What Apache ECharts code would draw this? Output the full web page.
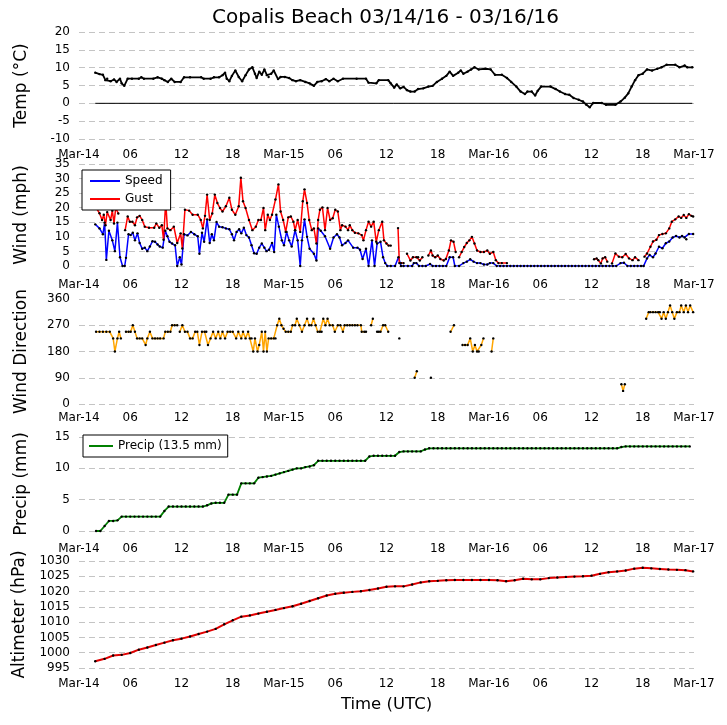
<!DOCTYPE html>
<html>
<head>
<meta charset="utf-8">
<script src="https://cdn.jsdelivr.net/npm/echarts@6/dist/echarts.min.js"></script>
<style>
html,body{margin:0;padding:0;background:#fff;}
#chart{width:727px;height:725px;}
</style>
</head>
<body>
<div id="chart"></div>
<script>
// ---- tick labels (hours since Mar-14 00:00 UTC, every 6 h) ----
const xTickLabels = ['Mar-14','06','12','18','Mar-15','06','12','18','Mar-16','06','12','18','Mar-17'];

// ---- Temperature (°C): [hour, value] ----
const tempReadings = [[1.9,8.6],[2.4,8.2],[2.8,8.0],[3.1,6.5],[3.3,6.9],[3.7,6.2],[4.1,6.7],[4.4,6.0],[4.8,6.9],[5.0,5.6],[5.3,4.9],[5.7,6.9],[6.2,6.9],[7.0,6.9],[7.3,7.3],[7.6,6.9],[8.7,6.9],[9.2,7.3],[9.7,6.9],[10.0,6.5],[10.4,6.0],[10.8,6.9],[11.2,6.0],[11.9,6.0],[12.3,7.3],[13.0,7.3],[14.3,7.3],[14.6,6.9],[15.4,6.9],[15.8,7.3],[16.4,7.3],[16.8,7.9],[17.1,8.6],[17.3,6.9],[17.6,6.2],[17.9,7.7],[18.3,9.2],[18.7,7.4],[19.1,6.2],[19.5,7.9],[19.9,9.5],[20.3,10.1],[20.6,8.3],[20.8,7.1],[21.1,8.9],[21.4,8.0],[21.7,9.5],[22.0,7.9],[22.2,7.4],[22.5,8.3],[22.8,9.2],[23.3,6.8],[23.6,7.4],[24.1,7.4],[24.6,7.1],[25.0,6.5],[25.4,6.2],[25.9,6.5],[26.5,6.0],[27.0,5.6],[27.5,4.9],[27.9,6.0],[28.4,6.2],[28.9,6.8],[29.3,6.2],[29.8,6.9],[30.3,6.2],[30.9,6.9],[32.5,6.9],[33.6,6.9],[33.9,5.8],[34.8,5.6],[35.1,6.5],[36.2,6.5],[36.5,5.6],[36.9,4.4],[37.2,5.3],[37.6,4.2],[38.0,4.6],[38.4,3.7],[38.8,3.3],[39.3,3.3],[39.7,4.0],[40.3,4.2],[40.9,4.7],[41.4,4.9],[41.9,6.0],[42.5,6.9],[43.0,7.7],[43.4,8.9],[43.8,7.7],[44.4,8.6],[44.7,9.2],[45.0,8.3],[45.5,8.9],[45.9,9.5],[46.3,10.1],[46.8,9.5],[47.6,9.7],[48.2,9.5],[48.7,8.0],[49.5,8.0],[50.1,7.1],[50.6,6.0],[51.2,4.7],[51.7,3.3],[52.2,2.6],[52.5,3.3],[53.0,3.3],[53.4,2.2],[53.7,3.5],[54.1,4.7],[55.2,4.7],[55.8,4.0],[56.3,3.3],[56.9,2.6],[57.4,2.4],[57.9,1.5],[58.5,1.0],[59.0,0.5],[59.4,-0.4],[59.8,-1.1],[60.2,0.1],[61.2,0.1],[61.7,-0.4],[62.8,-0.4],[63.4,0.5],[63.9,1.6],[64.3,2.8],[64.7,4.7],[65.1,6.5],[65.5,7.9],[66.0,8.3],[66.5,9.5],[67.1,9.2],[67.7,9.7],[68.2,10.1],[68.8,10.8],[69.8,10.8],[70.3,10.1],[70.9,10.6],[71.2,10.1],[71.8,10.1]];

// ---- Wind speed (mph): [hour, value] ----
const speedReadings = [[1.9,14.3],[2.4,12.9],[2.8,10.9],[3.0,14.9],[3.2,2.1],[3.5,12.1],[3.9,8.8],[4.2,5.1],[4.5,14.9],[4.8,3],[5.1,0],[5.35,0],[5.5,2.8],[5.8,10.9],[6.05,10.6],[6.3,11.4],[6.55,8.8],[6.85,11.2],[7.1,7.9],[7.4,5.9],[7.7,6.3],[8.0,5.1],[8.3,6.7],[8.6,8.5],[8.9,8.3],[9.2,7.4],[9.45,6.7],[9.8,6.3],[10.1,12.1],[10.35,10.2],[10.6,8.3],[10.9,7.7],[11.25,7.1],[11.5,0],[11.8,3],[12.0,0.5],[12.3,10.9],[12.7,10.5],[13.1,11.7],[13.5,10.9],[13.9,10.2],[14.1,4.2],[14.4,11.4],[14.65,8.3],[15.0,16],[15.3,7.9],[15.55,10.9],[15.8,8.8],[16.1,15.1],[16.4,13.5],[16.8,13.3],[17.2,12.9],[17.6,12.6],[17.9,10.9],[18.15,8.8],[18.45,11.7],[18.75,12.6],[19.0,11.2],[19.3,13.1],[19.6,10.6],[19.9,9.8],[20.2,7.1],[20.5,4.4],[20.8,4.2],[21.1,6.3],[21.4,7.7],[21.7,6.3],[21.95,5.1],[22.25,5.6],[22.6,7.9],[22.85,4.8],[23.1,17.6],[23.4,13.5],[23.75,8.8],[24.0,7.1],[24.3,11.7],[24.6,8.8],[24.9,6.7],[25.3,12.3],[25.6,8.8],[25.9,0],[26.1,8.8],[26.4,16],[26.7,10],[27.0,5.9],[27.5,4.2],[27.8,1.9],[28.0,12.9],[28.3,12.1],[28.8,10.2],[29.4,5.9],[29.8,9.8],[30.2,10.9],[30.5,9.8],[30.8,7.1],[31.2,7.9],[31.5,8.8],[32.1,6.3],[32.6,6.3],[32.9,5.6],[33.2,2.4],[33.6,5.9],[33.9,0],[34.3,8.8],[34.6,0],[34.9,7.7],[35.3,8.3],[35.6,3],[35.85,1],[36.1,0],[36.5,0],[37.0,0],[37.4,3],[37.7,0],[38.0,0],[38.5,0],[39.0,0],[39.2,1],[39.5,1],[39.8,0],[40.2,0],[40.6,0],[41.1,0.7],[41.4,0],[41.8,0],[42.2,0],[42.6,0],[43.0,0],[43.4,3],[43.8,3],[44.0,0],[44.5,0],[45.0,1],[45.4,1.5],[45.8,2.3],[46.2,1.5],[46.6,1],[47.0,1],[47.4,0.5],[47.8,0.5],[48.1,1],[48.5,1],[48.9,0],[49.3,0],[49.7,0],[50.1,0],[50.5,0],[50.9,0],[51.3,0],[51.7,0],[52.1,0],[52.5,0],[52.9,0],[53.3,0],[53.7,0],[54.1,0],[54.5,0],[54.9,0],[55.3,0],[55.7,0],[56.1,0],[56.5,0],[56.9,0],[57.3,0],[57.7,0],[58.1,0],[58.5,0],[58.9,0],[59.3,0],[59.7,0],[60.1,0],[60.5,0],[60.9,0],[61.3,0],[61.7,0],[62.1,0],[62.5,0],[62.9,0],[63.4,1],[63.8,1.1],[64.2,0],[64.6,0],[65.0,0],[65.4,0],[65.8,0],[66.1,0],[66.5,2.6],[66.8,3.8],[67.2,3],[67.5,4.3],[67.9,6.6],[68.3,6.1],[68.7,7.8],[69.1,8.4],[69.5,9.8],[69.9,10.3],[70.3,9.8],[70.6,10.3],[70.9,9.8],[71.1,9.2],[71.4,11],[71.9,11]];

// ---- Wind gust (mph): [hour, value], null = gap ----
const gustReadings = [[2.0,20],[2.4,18.1],[2.7,15.8],[2.9,17.6],[3.1,14],[3.3,18.5],[3.7,15.8],[3.9,19],[4.1,14.6],[4.3,20],[4.6,18],[4.9,null],[5.4,12.3],[5.7,17],[5.95,15.2],[6.25,15.2],[6.55,14],[6.8,16.7],[7.1,17.2],[7.4,15.8],[7.7,13.5],[8.2,13.1],[8.8,13.1],[9.05,14.6],[9.4,13.1],[9.7,14],[9.9,9],[10.15,22],[10.35,12.9],[10.7,12.3],[11.1,13.5],[11.5,7.9],[11.9,11.2],[12.1,6],[12.4,19.3],[12.9,19],[13.3,17.6],[13.9,17.6],[14.25,15.8],[14.5,12.9],[14.75,17.2],[15.0,24.5],[15.3,15.8],[15.6,18],[15.9,24.5],[16.2,21.6],[16.5,19.9],[16.8,18.7],[17.2,20.5],[17.6,23.4],[17.9,19.3],[18.3,17.6],[18.7,20.5],[18.95,30.3],[19.2,22.2],[19.5,19.9],[19.9,15.8],[20.3,12.3],[20.7,13.5],[21.0,15.8],[21.3,15.8],[21.6,19.9],[21.8,12.3],[22.1,17.6],[22.35,15.8],[22.6,17.6],[23.0,22.8],[23.35,28],[23.6,18.7],[23.9,15.8],[24.2,11.7],[24.5,16.7],[24.8,17],[25.1,15.2],[25.3,12.3],[25.6,15.8],[25.9,11.7],[26.2,22.2],[26.4,26.3],[26.7,21.6],[26.95,15.8],[27.25,12.3],[27.5,12.9],[27.8,7.7],[28.0,15.8],[28.2,19.3],[28.5,20.1],[28.8,12.3],[29.1,19.9],[29.4,15.8],[29.7,16.4],[30.0,19.3],[30.3,18.7],[30.6,12.3],[30.8,14],[31.2,13.5],[31.5,12.3],[31.7,14],[32.0,12.3],[32.3,11.4],[32.7,11.2],[33.1,10.6],[33.3,8.8],[33.6,12.3],[33.9,15.2],[34.2,13.5],[34.5,15.2],[34.8,8.3],[35.1,12.3],[35.5,15.2],[35.7,8.8],[36.0,7.7],[36.25,7],[36.5,7],[36.9,null],[37.35,13],[37.5,1],[37.7,1],[38.0,1],[38.2,null],[38.4,4.2],[38.8,1.9],[39.1,3],[39.5,3],[39.7,3],[39.9,1.9],[40.2,3],[40.5,null],[40.9,3.6],[41.2,5.3],[41.4,3.6],[41.7,3],[42.0,3.6],[42.3,2.4],[42.7,1.9],[42.95,2.4],[43.3,5.3],[43.55,8.8],[43.85,8.3],[44.1,4.8],[44.3,null],[44.5,3],[44.8,4.8],[45.1,6.5],[45.4,7.9],[45.7,8.8],[46.0,10],[46.3,7.7],[46.6,5.3],[47.0,4.8],[47.4,4.8],[47.8,5.3],[48.1,4.2],[48.5,4.8],[48.8,2],[49.1,1],[49.5,1],[50.1,1],[50.5,null],[60.3,2.3],[60.6,2.6],[60.8,2],[61.1,0.9],[61.3,2.6],[61.6,3],[61.85,1.5],[62.1,null],[62.4,0.9],[62.8,4.3],[63.2,3.2],[63.6,3],[64.0,4.1],[64.4,2.6],[64.8,2],[65.1,3],[65.5,2],[65.8,null],[66.2,3.2],[66.5,4.3],[66.9,6.6],[67.2,8.4],[67.6,9],[67.9,10.6],[68.3,11],[68.7,11.2],[69.1,12.9],[69.4,15.2],[69.8,16],[70.2,17],[70.5,16.5],[70.8,17.5],[71.1,16.5],[71.4,17.8],[71.7,17.2],[71.9,17]];

// ---- Wind direction (deg): [hour, value], null = gap ----
const dirReadings = [[2.0,247.5],[2.4,247.5],[2.8,247.5],[3.2,247.5],[3.6,247.5],[4.0,225],[4.2,180],[4.5,225],[4.7,247.5],[4.9,225],[5.2,null],[5.5,247.5],[5.8,247.5],[6.05,247.5],[6.3,270],[6.55,247.5],[6.8,225],[7.1,225],[7.4,225],[7.8,202.5],[8.0,225],[8.3,247.5],[8.6,225],[8.9,225],[9.2,225],[9.5,225],[9.9,225],[10.1,247.5],[10.4,247.5],[10.7,247.5],[10.9,270],[11.2,270],[11.5,270],[11.65,null],[11.8,247.5],[12.1,270],[12.4,247.5],[12.7,247.5],[13.0,225],[13.3,225],[13.6,247.5],[13.85,247.5],[14.1,202.5],[14.4,247.5],[14.7,247.5],[14.9,247.5],[15.1,202.5],[15.4,225],[15.7,247.5],[16.0,225],[16.3,247.5],[16.55,225],[16.8,247.5],[17.1,225],[17.4,247.5],[17.7,247.5],[18.0,247.5],[18.4,225],[18.65,247.5],[19.0,225],[19.2,247.5],[19.5,225],[19.8,247.5],[20.0,225],[20.2,225],[20.4,180],[20.6,225],[20.9,180],[21.1,202.5],[21.4,247.5],[21.6,180],[21.8,247.5],[22.0,180],[22.2,225],[22.5,225],[22.8,225],[23.0,225],[23.2,270],[23.45,292.5],[23.7,270],[23.95,258],[24.2,247.5],[24.5,247.5],[24.8,247.5],[25.0,270],[25.3,270],[25.5,292.5],[25.8,270],[26.1,247.5],[26.4,270],[26.7,292.5],[26.95,270],[27.2,270],[27.45,292.5],[27.7,270],[27.95,247.5],[28.2,247.5],[28.4,247.5],[28.6,292.5],[28.85,270],[29.1,292.5],[29.35,270],[29.7,270],[29.95,247.5],[30.3,270],[30.6,270],[30.9,247.5],[31.1,270],[31.4,270],[31.7,270],[32.0,270],[32.3,270],[32.6,270],[33.0,270],[33.1,247.5],[33.4,247.5],[33.6,247.5],[33.9,null],[34.2,270],[34.4,292.5],[34.6,null],[34.9,247.5],[35.1,247.5],[35.3,247.5],[35.6,270],[35.85,270],[36.2,247.5],[36.5,null],[37.5,225],[37.8,null],[39.3,90],[39.55,112.5],[39.8,null],[41.2,90],[41.5,null],[43.5,247.5],[43.9,270],[44.2,null],[44.9,202.5],[45.2,202.5],[45.5,202.5],[45.8,225],[46.1,180],[46.35,202.5],[46.6,180],[46.8,180],[47.1,202.5],[47.35,225],[47.6,null],[48.3,180],[48.5,225],[48.8,null],[63.5,67.5],[63.7,45],[63.9,67.5],[64.2,null],[66.4,292.5],[66.7,315],[66.9,315],[67.2,315],[67.5,315],[67.8,315],[68.0,315],[68.2,292.5],[68.45,315],[68.7,292.5],[68.95,315],[69.2,337.5],[69.45,315],[69.7,292.5],[70.0,315],[70.3,315],[70.5,337.5],[70.8,315],[71.05,337.5],[71.3,315],[71.55,337.5],[71.9,315]];

// ---- Accumulated precipitation (mm), read every 0.5 h from 02:00 Mar-14 ----
const precipStartHour = 2.0;
const precipStepHour = 0.5;
const precipValues = [0,0,0.8,1.6,1.6,1.7,2.3,2.3,2.3,2.3,2.3,2.3,2.3,2.3,2.3,2.3,3.2,3.9,3.9,3.9,3.9,3.9,3.9,3.9,3.9,3.9,4.1,4.4,4.5,4.5,4.5,5.8,5.8,5.8,7.6,7.6,7.6,7.6,8.5,8.6,8.7,8.8,9.0,9.2,9.4,9.6,9.8,10.0,10.0,10.2,10.3,10.5,11.2,11.2,11.2,11.2,11.2,11.2,11.2,11.2,11.2,11.2,11.2,11.2,11.9,12.0,12.0,12.0,12.0,12.0,12.0,12.6,12.7,12.7,12.7,12.7,12.7,13.0,13.2,13.2,13.2,13.2,13.2,13.2,13.2,13.2,13.2,13.2,13.2,13.2,13.2,13.2,13.2,13.2,13.2,13.2,13.2,13.2,13.2,13.2,13.2,13.2,13.2,13.2,13.2,13.2,13.2,13.2,13.2,13.2,13.2,13.2,13.2,13.2,13.2,13.2,13.2,13.2,13.2,13.2,13.2,13.2,13.2,13.4,13.5,13.5,13.5,13.5,13.5,13.5,13.5,13.5,13.5,13.5,13.5,13.5,13.5,13.5,13.5,13.5];
const precipTotalLabel = 'Precip (13.5 mm)';

// ---- Altimeter (hPa): [hour, value] ----
const altReadings = [[1.9,997.2],[3,998],[4,999.1],[5,999.3],[6,999.9],[7,1001],[8,1001.7],[9,1002.5],[10,1003.3],[11,1004.1],[12,1004.6],[13,1005.3],[14,1006.1],[15,1006.9],[16,1007.8],[17,1009.3],[18,1010.6],[19,1011.8],[20,1012.2],[21,1012.8],[22,1013.4],[23,1014],[24,1014.6],[25,1015.2],[26,1016],[27,1016.9],[28,1017.8],[29,1018.7],[30,1019.3],[31,1019.6],[32,1019.9],[33,1020.1],[34,1020.5],[35,1021],[36,1021.6],[37,1021.7],[38,1021.7],[39,1022.3],[40,1023],[41,1023.4],[42,1023.5],[43,1023.7],[44,1023.8],[45,1023.8],[46,1023.8],[47,1023.8],[48,1023.8],[49,1023.7],[50,1023.4],[51,1023.7],[52,1024.2],[53,1024],[54,1024],[55,1024.4],[56,1024.6],[57,1024.8],[58,1024.9],[59,1025],[60,1025.2],[61,1025.8],[62,1026.3],[63,1026.6],[64,1026.9],[65,1027.5],[66,1027.8],[67,1027.6],[68,1027.4],[69,1027.2],[70,1027.1],[71,1027],[71.9,1026.6]];

// ---------------- build chart ----------------
const FONT = "'DejaVu Sans', sans-serif";
const precipData = precipValues.map((v, i) => [precipStartHour + i * precipStepHour, v]);
const tempStart = tempReadings[0][0], tempEnd = tempReadings[tempReadings.length - 1][0];

const gridDefs = [
  {top: 32, height: 107},
  {top: 164, height: 102},
  {top: 299, height: 105},
  {top: 437, height: 94},
  {top: 561, height: 107}
];
const xLabelMargins = [10, 13, 8, 12, 10];
const yDefs = [
  {min: -10, max: 20, interval: 5, name: 'Temp (°C)'},
  {min: 0, max: 35, interval: 5, name: 'Wind (mph)'},
  {min: 0, max: 360, interval: 90, name: 'Wind Direction'},
  {min: 0, max: 15, interval: 5, name: 'Precip (mm)'},
  {min: 995, max: 1030, interval: 5, name: 'Altimeter (hPa)'}
];

const grid = gridDefs.map(g => ({left: 79, width: 615, top: g.top, height: g.height, containLabel: false, outerBoundsMode: 'none'}));
const xAxis = xLabelMargins.map((m, i) => ({
  type: 'value', gridIndex: i, min: 0, max: 72, interval: 6,
  axisLine: {show: false}, axisTick: {show: false}, splitLine: {show: false},
  axisLabel: {formatter: v => xTickLabels[Math.round(v / 6)], fontFamily: FONT, fontSize: 12, color: '#000', margin: m, showMinLabel: true, showMaxLabel: true},
  name: i === 4 ? 'Time (UTC)' : '', nameLocation: 'middle', nameGap: 28,
  nameTextStyle: {fontFamily: FONT, fontSize: 16.5, color: '#000'}
}));
const yAxis = yDefs.map((d, i) => ({
  type: 'value', gridIndex: i, min: d.min, max: d.max, interval: d.interval,
  axisLine: {show: false}, axisTick: {show: false},
  splitLine: {show: true, lineStyle: {color: '#c4c4c4', width: 1, type: [6, 4]}},
  axisLabel: {formatter: v => String(v), fontFamily: FONT, fontSize: 12, color: '#000', margin: 9},
  name: d.name, nameLocation: 'middle', nameGap: 49,
  nameTextStyle: {fontFamily: FONT, fontSize: 17, color: '#000'}
}));

function lineSeries(name, idx, data, color, width) {
  return {
    name: name, type: 'line', xAxisIndex: idx, yAxisIndex: idx, data: data,
    showSymbol: true, showAllSymbol: true, symbol: 'circle', symbolSize: 2.4,
    itemStyle: {color: '#000', borderWidth: 0},
    lineStyle: {color: color, width: width},
    connectNulls: false, animation: false, silent: true,
    emphasis: {disabled: true}, z: 3
  };
}

const option = {
  backgroundColor: '#fff',
  animation: false,
  textStyle: {fontFamily: FONT},
  title: {text: 'Copalis Beach 03/14/16 - 03/16/16', left: 212, top: 8, padding: 0,
    textStyle: {fontFamily: FONT, fontSize: 20, fontWeight: 'normal', color: '#000'}},
  legend: [
    {data: [{name: 'Speed', itemStyle: {color: '#0000ff'}}, {name: 'Gust', itemStyle: {color: '#ff0000'}}],
     orient: 'vertical', left: 82, top: 170, icon: 'rect', itemWidth: 30, itemHeight: 2, itemGap: 6,
     padding: [5, 8, 5, 8], borderColor: '#000', borderWidth: 1, borderRadius: 0, backgroundColor: '#fff',
     selectedMode: false, textStyle: {fontFamily: FONT, fontSize: 12, color: '#000'}, z: 10},
    {data: [{name: precipTotalLabel, itemStyle: {color: '#008000'}}],
     orient: 'vertical', left: 83, top: 435, icon: 'rect', itemWidth: 24, itemHeight: 2,
     padding: [5, 6, 5, 6], borderColor: '#000', borderWidth: 1, borderRadius: 0, backgroundColor: '#fff',
     selectedMode: false, textStyle: {fontFamily: FONT, fontSize: 12, color: '#000'}, z: 10}
  ],
  grid: grid,
  xAxis: xAxis,
  yAxis: yAxis,
  series: [
    lineSeries('Temp', 0, tempReadings, '#000', 1.8),
    {name: 'zero', type: 'line', xAxisIndex: 0, yAxisIndex: 0, data: [[tempStart, 0], [tempEnd, 0]],
     showSymbol: false, lineStyle: {color: '#000', width: 1}, silent: true, animation: false, z: 2},
    lineSeries('Speed', 1, speedReadings, '#0000ff', 1.5),
    lineSeries('Gust', 1, gustReadings, '#ff0000', 1.5),
    lineSeries('Direction', 2, dirReadings, '#ffa500', 1.5),
    lineSeries(precipTotalLabel, 3, precipData, '#008000', 1.8),
    lineSeries('Altimeter', 4, altReadings, '#e00000', 2)
  ]
};

const chart = echarts.init(document.getElementById('chart'), null, {renderer: 'canvas'});
chart.setOption(option);
</script>
</body>
</html>
